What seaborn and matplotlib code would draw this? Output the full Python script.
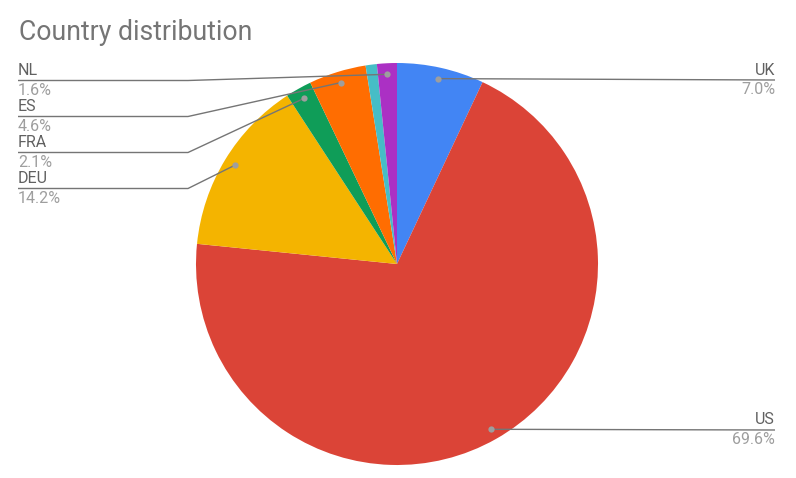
import numpy as np
import seaborn as sns
import matplotlib.pyplot as plt

sns.set_style('white')
plt.rcParams['font.family'] = ['Roboto', 'DejaVu Sans']

# slices, clockwise from 12 o'clock
countries = ['UK', 'US', 'DEU', 'FRA', 'ES', '', 'NL']
shares = [7.0, 69.6, 14.2, 2.1, 4.6, 0.9, 1.6]
colors = ['#4285F4', '#DB4437', '#F4B400', '#0F9D58', '#FF6D01', '#46BDC6', '#AB30C4']

W, H = 796, 478

fig = plt.figure(figsize=(W / 100, H / 100), dpi=100)
ax = fig.add_axes([0, 0, 1, 1])

cx, cy, r = 397, H - 264, 201
wedges, _ = ax.pie(shares, colors=colors, startangle=90, counterclock=False,
                   center=(cx, cy), radius=r, wedgeprops=dict(linewidth=0))
ax.set_xlim(0, W)
ax.set_ylim(0, H)
ax.set_aspect('equal')
ax.axis('off')

# label slots (pixel y of the leader line), side
slots = {'UK': ('right', 80), 'US': ('right', 430),
         'NL': ('left', 80.5), 'ES': ('left', 116.5),
         'FRA': ('left', 152.5), 'DEU': ('left', 188.5)}

line_c = '#757575'
for w, name, share in zip(wedges, countries, shares):
    if not name:
        continue
    mid = np.deg2rad((w.theta1 + w.theta2) / 2)
    dx = cx + 0.945 * r * np.cos(mid)
    dy = cy + 0.945 * r * np.sin(mid)
    side, py = slots[name]
    ly = H - py
    if side == 'right':
        ax.plot([dx, 775], [dy, ly], color=line_c, lw=1, solid_capstyle='butt')
        x_txt, ha = 775, 'right'
    else:
        ax.plot([dx, 188, 18], [dy, ly, ly], color=line_c, lw=1, solid_capstyle='butt')
        x_txt, ha = 18, 'left'
    ax.plot(dx, dy, 'o', color='#9E9E9E', ms=4.5, mec='none')
    ax.text(x_txt, ly + 2.5, name, ha=ha, va='bottom', fontsize=11.5, color='#616161')
    ax.text(x_txt, ly - 2, '{:.1f}%'.format(share), ha=ha, va='top', fontsize=11.5, color='#9E9E9E')

fig.text(19 / W, 1 - 32 / H, 'Country distribution', ha='left', va='center',
         fontsize=19.2, color='#757575')

plt.savefig('out.png', dpi=100)
plt.close()
